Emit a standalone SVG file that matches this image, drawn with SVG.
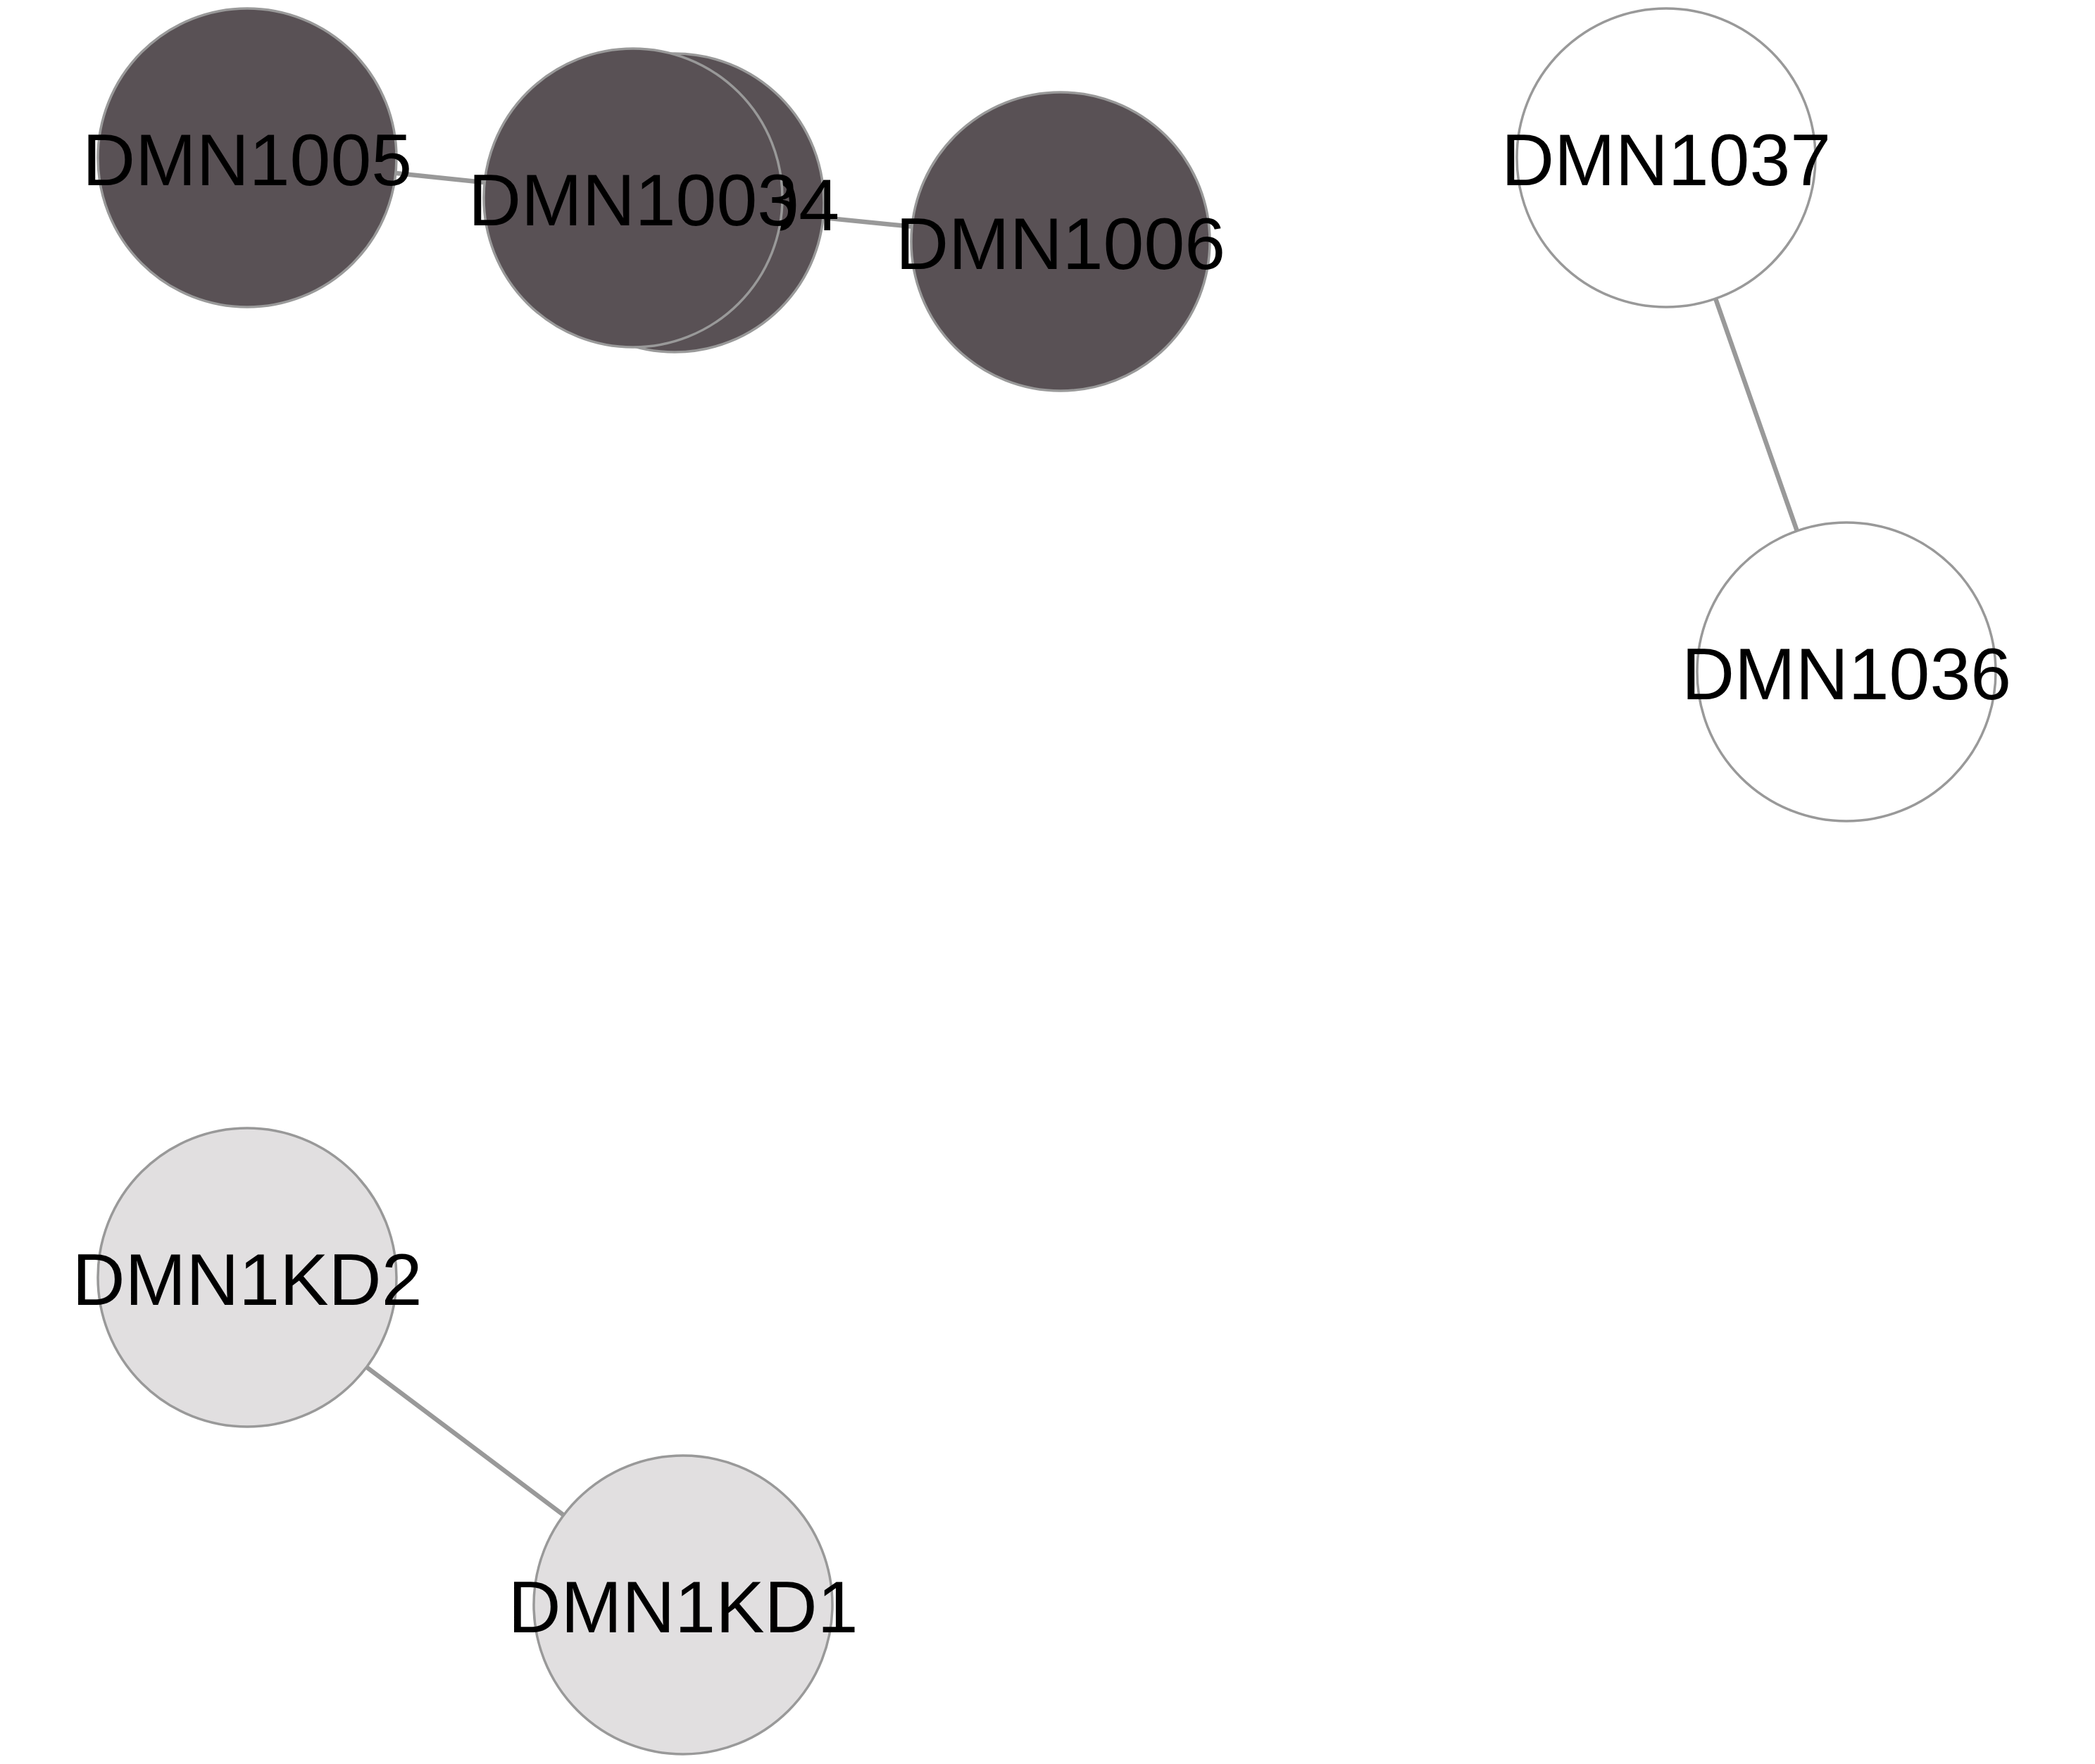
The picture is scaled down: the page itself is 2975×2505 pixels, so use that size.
<svg xmlns="http://www.w3.org/2000/svg" width="2975" height="2505" viewBox="0 0 2975 2505">
<style>
.edge{stroke:#999999;stroke-width:6.5;fill:none}
.node circle{stroke:#999999;stroke-width:3.5}
.dark{fill:#595155}
.light{fill:#e1dfe0}
.white{fill:#ffffff}
.node text{font-family:"Liberation Sans",Arial,sans-serif;font-size:104px;fill:#000;text-anchor:middle}
</style>
<rect width="2975" height="2505" fill="#ffffff"/>
<g id="connectors">
<line class="edge" x1="351" y1="224" x2="899" y2="281"/>
<line class="edge" x1="958" y1="288" x2="1506" y2="343"/>
<line class="edge" x1="2366" y1="224" x2="2622" y2="954"/>
<line class="edge" x1="351" y1="1814" x2="970" y2="2279"/>
</g>
<g id="DMN1005" class="node"><circle class="dark" cx="351" cy="224" r="212"/><text x="351" y="263">DMN1005</text></g>
<g id="DMN1004" class="node"><circle class="dark" cx="958" cy="288" r="212"/><text x="958" y="327">DMN1004</text></g>
<g id="DMN1003" class="node"><circle class="dark" cx="899" cy="281" r="212"/><text x="899" y="320">DMN1003</text></g>
<g id="DMN1006" class="node"><circle class="dark" cx="1506" cy="343" r="212"/><text x="1506" y="382">DMN1006</text></g>
<g id="DMN1037" class="node"><circle class="white" cx="2366" cy="224" r="212"/><text x="2366" y="263">DMN1037</text></g>
<g id="DMN1036" class="node"><circle class="white" cx="2622" cy="954" r="212"/><text x="2622" y="993">DMN1036</text></g>
<g id="DMN1KD2" class="node"><circle class="light" cx="351" cy="1814" r="212"/><text x="351" y="1853">DMN1KD2</text></g>
<g id="DMN1KD1" class="node"><circle class="light" cx="970" cy="2279" r="212"/><text x="970" y="2318">DMN1KD1</text></g>
</svg>
